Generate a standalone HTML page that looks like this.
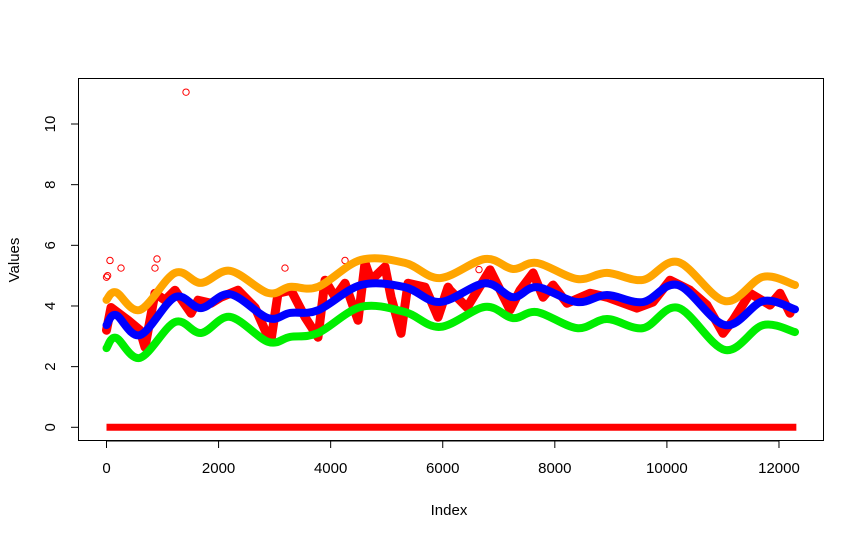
<!DOCTYPE html>
<html><head><meta charset="utf-8"><style>
html,body{margin:0;padding:0;background:#fff;}
svg{display:block;font-family:"Liberation Sans",Arial,sans-serif;}
</style></head><body>
<svg id="chart" width="861" height="539" viewBox="0 0 861 539" xmlns="http://www.w3.org/2000/svg">
<rect x="0" y="0" width="861" height="539" fill="#fff"/>
<g id="marks"></g>
<rect x="78.5" y="78.5" width="745" height="362" fill="none" stroke="#000" stroke-width="1"/>
<g id="axes"></g>
<text x="449" y="515" font-size="15" text-anchor="middle">Index</text>
<text x="19" y="260" font-size="15" text-anchor="middle" transform="rotate(-90 19 260)">Values</text>
</svg>
<script>
const xTicks = [0, 2000, 4000, 6000, 8000, 10000, 12000];
const yTicks = [0, 2, 4, 6, 8, 10];
const smoothIdx = [0,170,598,1222,1686,2204,2882,3275,3774,4541,5326,5951,6754,7253,7682,8396,8931,9573,10198,11037,11715,12286];
const blueVals = [3.37,3.7,3.04,4.29,3.93,4.39,3.6,3.77,3.86,4.69,4.62,4.13,4.75,4.29,4.62,4.13,4.36,4.13,4.69,3.37,4.16,3.89];
const orangeVals = [4.2,4.45,3.87,5.09,4.76,5.16,4.43,4.63,4.63,5.52,5.42,4.92,5.55,5.22,5.42,4.89,5.09,4.86,5.45,4.16,4.96,4.69];
const greenVals = [2.61,2.95,2.29,3.47,3.11,3.64,2.82,2.98,3.11,3.97,3.8,3.31,3.97,3.6,3.8,3.27,3.57,3.27,3.94,2.55,3.37,3.14];
const redIdx = [0,80,384,598,687,865,1044,1222,1508,1633,1865,2044,2347,2650,2829,2936,3061,3293,3543,3774,3899,4078,4256,4488,4613,4720,4970,5078,5256,5381,5684,5916,6094,6130,6433,6844,7201,7380,7612,7790,7969,8218,8629,8931,9467,9752,10055,10412,10715,11001,11180,11483,11840,12018,12197];
const redVals = [3.2,3.95,3.53,3.2,2.64,4.42,4.19,4.52,3.76,4.19,4.09,4.29,4.52,3.95,3.2,2.87,4.42,4.52,3.63,2.97,4.85,4.29,4.75,3.53,5.42,4.85,5.29,4.29,3.1,4.75,4.62,3.63,4.62,4.52,3.95,5.19,3.87,4.52,5.09,4.29,4.69,4.09,4.42,4.29,3.93,4.13,4.85,4.52,4.03,3.1,3.53,4.42,4.03,4.42,3.76];
const outlierIdx = [0,20,62,259,865,901,1419,3185,4256,6647];
const outlierVals = [4.95,5.0,5.5,5.25,5.25,5.55,11.05,5.25,5.5,5.2];
const zeroRange = [0, 12310];
const zeroValue = 0;

const NS = "http://www.w3.org/2000/svg";
function sx(i){ return 106.5 + i*0.05604; }
function sy(v){ return 427.3 - v*30.33; }
const marks = document.getElementById('marks');
const axes = document.getElementById('axes');
function mk(tag, attrs, parent){ const e=document.createElementNS(NS,tag); for(const k in attrs) e.setAttribute(k,attrs[k]); parent.appendChild(e); return e; }
function smoothPath(xs, vs){
  const p = xs.map((x,i)=>[sx(x), sy(vs[i])]);
  let d = "M"+p[0][0]+","+p[0][1];
  for(let i=0;i<p.length-1;i++){
    const p0=p[Math.max(0,i-1)], p1=p[i], p2=p[i+1], p3=p[Math.min(p.length-1,i+2)];
    const c1=[p1[0]+(p2[0]-p0[0])/6, p1[1]+(p2[1]-p0[1])/6];
    const c2=[p2[0]-(p3[0]-p1[0])/6, p2[1]-(p3[1]-p1[1])/6];
    d += " C"+c1[0]+","+c1[1]+" "+c2[0]+","+c2[1]+" "+p2[0]+","+p2[1];
  }
  return d;
}
const zr = mk('line',{x1:sx(zeroRange[0]),x2:sx(zeroRange[1]),y1:sy(zeroValue),y2:sy(zeroValue),stroke:'#ff0000','stroke-width':7},marks);


const rl = mk('path',{d:"M"+redIdx.map((x,i)=>sx(x)+","+sy(redVals[i])).join(" L"),fill:'none',stroke:'#ff0000','stroke-width':9,'stroke-linejoin':'round','stroke-linecap':'round'},marks);


outlierIdx.forEach((x,i)=>{
  const c = mk('circle',{cx:sx(x),cy:sy(outlierVals[i]),r:3.2,fill:'none',stroke:'#ff0000','stroke-width':1},marks);
  
  
});
[[orangeVals,'#ffa500','orange-series'],[greenVals,'#00ee00','green-series'],[blueVals,'#0000ff','blue-series']].forEach(s=>{
  const p = mk('path',{d:smoothPath(smoothIdx,s[0]),fill:'none',stroke:s[1],'stroke-width':8,'stroke-linecap':'round'},marks);
  
  
});
xTicks.forEach(t=>{
  const l = mk('line',{x1:sx(t),x2:sx(t),y1:441,y2:448,stroke:'#000'},axes);
  
  
  const tx = mk('text',{x:sx(t),y:473,'font-size':15,'text-anchor':'middle'},axes);
  tx.textContent = t;
  
  
});
yTicks.forEach(t=>{
  const l = mk('line',{x1:71,x2:78.5,y1:sy(t),y2:sy(t),stroke:'#000'},axes);
  
  
  const tx = mk('text',{x:55,y:sy(t),'font-size':15,'text-anchor':'middle',transform:'rotate(-90 55 '+sy(t)+')'},axes);
  tx.textContent = t;
  
  
});
const xl = mk('line',{x1:sx(0),x2:sx(12000),y1:441,y2:441,stroke:'#000'},axes);


const yl = mk('line',{x1:78.5,x2:78.5,y1:sy(0),y2:sy(10),stroke:'#000'},axes);


</script>
</body></html>
